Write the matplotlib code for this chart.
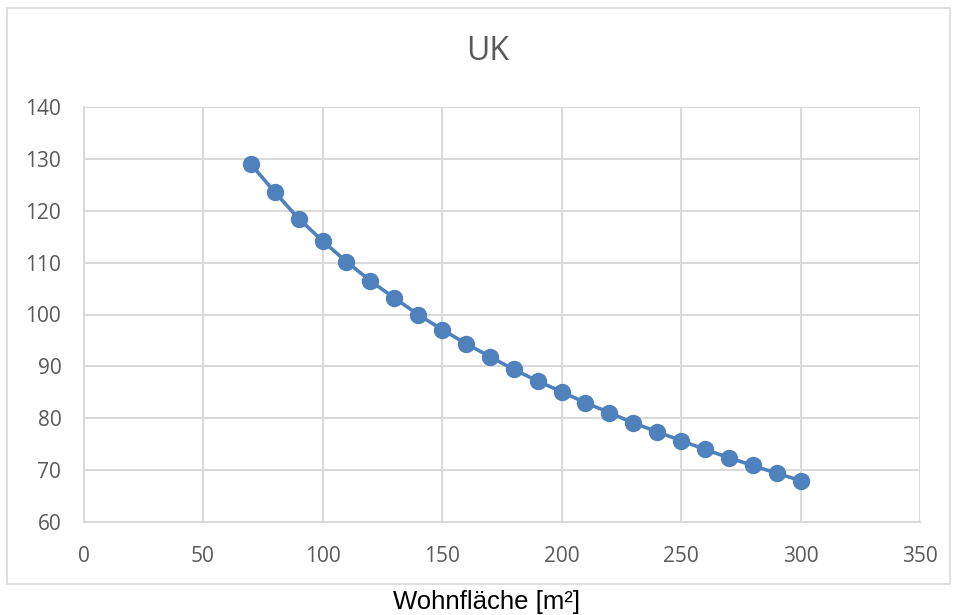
import matplotlib
matplotlib.use("Agg")
import matplotlib.pyplot as plt
from matplotlib.patches import Rectangle

area = [70, 80, 90, 100, 110, 120, 130, 140, 150, 160, 170, 180,
        190, 200, 210, 220, 230, 240, 250, 260, 270, 280, 290, 300]
values = [129.0, 123.6, 118.5, 114.2, 110.2, 106.5, 103.2, 100.0, 97.1, 94.4, 91.9, 89.4,
          87.2, 85.1, 83.0, 81.1, 79.1, 77.4, 75.7, 74.0, 72.4, 70.9, 69.4, 68.0]
x_ticks = [0, 50, 100, 150, 200, 250, 300, 350]
y_ticks = [60, 70, 80, 90, 100, 110, 120, 130, 140]
title = "UK"
xlabel = "Wohnfläche [m²]"

W, H = 955, 615
fig = plt.figure(figsize=(W / 100, H / 100), dpi=100)
fig.patch.set_facecolor("white")

# chart border
fig.patches.append(Rectangle((7 / W, 1 - 584 / H), (950 - 7) / W, (584 - 8) / H,
                             transform=fig.transFigure, fill=False,
                             edgecolor="#d9d9d9", linewidth=1.2))

ax = fig.add_axes([83.5 / W, 1 - 522 / H, (920 - 83.5) / W, (522 - 107) / H])
ax.plot(area, values, color="#4f81bd", linewidth=2.6, marker="o",
        markersize=11.5, markerfacecolor="#4f81bd", markeredgecolor="#4f81bd", zorder=3)

ax.set_xlim(0, 350)
ax.set_ylim(60, 140)
ax.set_xticks(x_ticks)
ax.set_yticks(y_ticks)
ax.grid(True, color="#d9d9d9", linewidth=1.4)
ax.set_axisbelow(True)
for s in ["top", "right"]:
    ax.spines[s].set_visible(False)
for s in ["left", "bottom"]:
    ax.spines[s].set_color("#d9d9d9")
    ax.spines[s].set_linewidth(1.4)
ax.tick_params(length=0, labelsize=15, labelcolor="#595959")
ax.tick_params(axis="y", pad=16)
ax.tick_params(axis="x", pad=17)
for lab in ax.get_xticklabels() + ax.get_yticklabels():
    lab.set_fontfamily("Open Sans")

fig.text(488 / W, 1 - 51.5 / H, title, ha="center", va="center",
         fontsize=23, color="#595959", family="Open Sans")
fig.text(487 / W, 1 - 602 / H, xlabel, ha="center", va="center",
         fontsize=18.5, color="black", family="Liberation Sans")

fig.savefig("out.png", dpi=100)
